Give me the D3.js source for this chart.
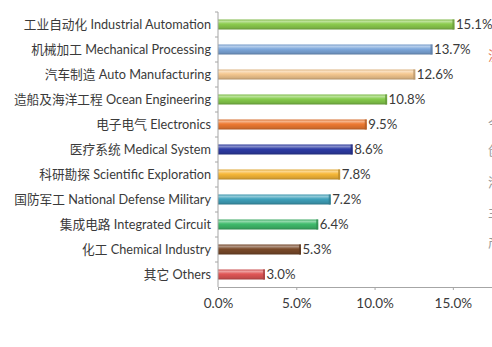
<!DOCTYPE html>
<html>
<head>
<meta charset="utf-8">
<script src="https://cdn.jsdelivr.net/npm/d3@7/dist/d3.min.js"></script>
<style>
  html, body { margin: 0; padding: 0; background: #fff; }
  svg { display: block; }
  text { font-family: Lato, "Noto Sans CJK SC", sans-serif; }
</style>
</head>
<body>
<script>
// Industry share of demand, percent
const categories = [
  "工业自动化 Industrial Automation",
  "机械加工 Mechanical Processing",
  "汽车制造 Auto Manufacturing",
  "造船及海洋工程 Ocean Engineering",
  "电子电气 Electronics",
  "医疗系统 Medical System",
  "科研勘探 Scientific Exploration",
  "国防军工 National Defense Military",
  "集成电路 Integrated Circuit",
  "化工 Chemical Industry",
  "其它 Others"
];
const values = [15.1, 13.7, 12.6, 10.8, 9.5, 8.6, 7.8, 7.2, 6.4, 5.3, 3.0];
const barColors = ["#8ccc4e", "#7ea8dc", "#f5c890", "#86cc4c", "#ee7a32", "#2e3ca6",
                   "#f7b838", "#3fa2bc", "#3fbb6c", "#7a4a2a", "#e05656"];
const xTicks = [0, 5, 10, 15];

const W = 492, H = 347;
const margin = { left: 218, top: 12, right: 0, bottom: 60 };

const svg = d3.select("body").append("svg").attr("width", W).attr("height", H);
const defs = svg.append("defs");

const x = d3.scaleLinear().domain([0, 17.5]).range([margin.left, W]);
const y = d3.scaleBand().domain(categories).range([margin.top, H - margin.bottom]);

// glossy cylinder gradient per bar
barColors.forEach((c, i) => {
  const base = d3.color(c);
  const g = defs.append("linearGradient").attr("id", "g" + i)
    .attr("x1", 0).attr("y1", 0).attr("x2", 0).attr("y2", 1);
  g.append("stop").attr("offset", "0%").attr("stop-color", base.darker(0.3));
  g.append("stop").attr("offset", "18%").attr("stop-color", d3.interpolateRgb(base, "#fff")(0.45));
  g.append("stop").attr("offset", "45%").attr("stop-color", base);
  g.append("stop").attr("offset", "80%").attr("stop-color", base.darker(0.35));
  g.append("stop").attr("offset", "100%").attr("stop-color", base.darker(0.9));
});

const axisColor = "#a6a6a6";
const textColor = "#3a3a3a";

// bars
const barH = 10;
const bars = svg.append("g");
categories.forEach((cat, i) => {
  const cy = y(cat) + y.bandwidth() / 2;
  const x0 = x(0), x1 = x(values[i]);
  bars.append("rect")
    .attr("x", x0).attr("y", cy - barH / 2)
    .attr("width", x1 - x0).attr("height", barH)
    .attr("fill", `url(#g${i})`);
  // darker end cap
  bars.append("rect")
    .attr("x", x1 - 2).attr("y", cy - barH / 2)
    .attr("width", 2).attr("height", barH)
    .attr("fill", d3.color(barColors[i]).darker(0.8)).attr("opacity", 0.8);
  // value label
  svg.append("text")
    .attr("x", x1 + 1.5).attr("y", cy + 4.8)
    .attr("font-size", 13.2).attr("fill", textColor)
    .text(values[i].toFixed(1) + "%");
});

// y axis with ticks at band edges
const yAxis = svg.append("g");
yAxis.append("line")
  .attr("x1", margin.left).attr("x2", margin.left)
  .attr("y1", margin.top).attr("y2", H - margin.bottom)
  .attr("stroke", axisColor);
categories.forEach((cat, i) => {
  yAxis.append("line")
    .attr("x1", margin.left - 3).attr("x2", margin.left)
    .attr("y1", y(cat)).attr("y2", y(cat)).attr("stroke", axisColor);
  yAxis.append("text")
    .attr("x", margin.left - 7).attr("y", y(cat) + y.bandwidth() / 2 + 4.6)
    .attr("text-anchor", "end").attr("font-size", 12.7).attr("fill", textColor)
    .text(cat);
});

// x axis
const xAxis = svg.append("g").attr("transform", `translate(0,${H - margin.bottom})`)
  .call(d3.axisBottom(x).tickValues(xTicks).tickSize(3).tickSizeOuter(0)
    .tickFormat(d => d.toFixed(1) + "%"));
xAxis.select(".domain").attr("stroke", axisColor);
xAxis.selectAll(".tick line").attr("stroke", axisColor);
xAxis.selectAll(".tick text").attr("font-size", 13.5).attr("fill", textColor)
  .attr("font-family", 'Lato, "Noto Sans CJK SC", sans-serif').attr("y", 9).attr("dy", "0.9em");

// fragments of neighbouring text at the right margin
const sideText = [
  { t: "注", y: 60, c: "#e0704a" },
  { t: "今", y: 128, c: "#999" },
  { t: "创", y: 155, c: "#999" },
  { t: "港", y: 187, c: "#999" },
  { t: "主", y: 217, c: "#999" },
  { t: "产", y: 247, c: "#999" }
];
svg.append("g").selectAll("text").data(sideText).join("text")
  .attr("x", 488).attr("y", d => d.y).attr("font-size", 13)
  .attr("fill", d => d.c).text(d => d.t);
</script>
</body>
</html>
